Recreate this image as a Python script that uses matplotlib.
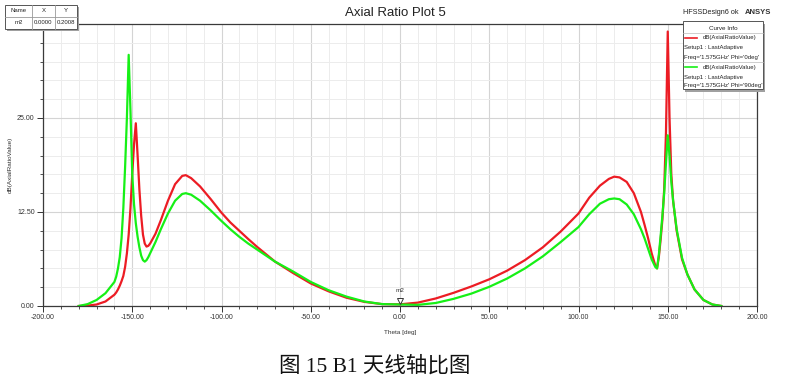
import matplotlib
matplotlib.use("Agg")
import matplotlib.pyplot as plt
from matplotlib.patches import Rectangle
from matplotlib.lines import Line2D
from matplotlib.transforms import offset_copy
import numpy as np

plt.rcParams['font.family'] = ['Liberation Sans', 'DejaVu Sans']

# theta (deg) shared by both curves
theta = [-180, -175, -170, -165, -160, -159, -158, -157, -156, -155, -154, -153, -152, -151,
         -150, -149, -148, -147, -146, -145, -144, -143, -142, -141, -140, -137, -134, -130,
         -126, -122, -120, -117, -112, -106, -100, -95, -90, -85, -80, -70, -60, -50, -40, -30, -20, -10,
         0, 10, 20, 30, 40, 50, 60, 70, 80, 90, 100, 106, 112, 117, 120, 123, 127, 131, 135,
         137, 139, 141, 143, 144, 145, 146, 147, 148, 149, 150, 151, 152, 153, 155, 158, 161,
         165, 170, 175, 180]

# dB(AxialRatioValue), Phi = 0deg
ar_phi0 = [0.0, 0.05, 0.2, 0.6, 1.5, 1.8, 2.2, 2.7, 3.3, 4.0, 5.2, 7.0, 9.5, 13.0,
           17.5, 21.5, 24.3, 20.0, 15.5, 12.0, 9.5, 8.3, 7.9, 8.0, 8.3, 9.6, 11.4, 14.0,
           16.2, 17.3, 17.4, 17.0, 15.9, 14.2, 12.4, 11.1, 10.0, 8.9, 7.85, 5.9, 4.4, 3.0, 1.95, 1.1, 0.55, 0.25,
           0.22, 0.45, 1.0, 1.75, 2.6, 3.55, 4.7, 6.1, 7.8, 9.9, 12.3, 14.4, 16.0, 16.9, 17.2, 17.1, 16.5, 15.0, 12.5,
           10.8, 9.0, 7.0, 5.4, 5.0, 6.5, 8.8, 11.5, 15.5, 23.0, 36.5, 25.0, 17.5, 14.0, 10.0, 6.2, 4.2,
           2.2, 0.8, 0.2, 0.0]

# dB(AxialRatioValue), Phi = 90deg
ar_phi90 = [0.0, 0.25, 0.8, 1.7, 3.2, 3.9, 5.0, 6.5, 9.0, 13.0, 18.5, 25.0, 33.4, 26.0,
            17.5, 13.5, 11.0, 9.2, 7.8, 6.7, 6.1, 5.9, 6.1, 6.5, 7.0, 8.5, 10.2, 12.3,
            14.0, 14.9, 15.0, 14.8, 14.0, 12.7, 11.3, 10.2, 9.2, 8.3, 7.5, 5.9, 4.6, 3.2, 2.1, 1.25, 0.6, 0.25,
            0.2, 0.15, 0.4, 0.95, 1.65, 2.55, 3.65, 5.0, 6.6, 8.5, 10.5, 12.2, 13.6, 14.2, 14.3, 14.2, 13.5, 12.2, 10.2,
            9.0, 7.6, 6.2, 5.2, 5.0, 6.8, 9.3, 12.0, 15.0, 19.0, 22.7, 20.0, 16.5, 14.0, 10.2, 6.4, 4.2,
            2.2, 0.8, 0.2, 0.0]

x_ticks = [-200, -150, -100, -50, 0, 50, 100, 150, 200]
y_ticks = [0, 12.5, 25]
marker_x, marker_y = 0.0, 0.2008

W, H = 791, 383
RED = '#ec1c24'
GREEN = '#16f016'


def fx(px):
    return px / W


def fy(py):
    return 1 - py / H


fig = plt.figure(figsize=(W / 100, H / 100), dpi=100)
ax = fig.add_axes([fx(43), fy(306), fx(757) - fx(43), fy(24) - fy(306)])

ax.plot(theta, ar_phi0, color=RED, lw=1.6, solid_joinstyle='round')
ax.plot(theta, ar_phi90, color=GREEN, lw=1.6, solid_joinstyle='round')

ax.set_xlim(-200, 200)
ax.set_ylim(0, 37.5)
ax.set_xticks(x_ticks)
ax.set_xticklabels(['%.2f' % v for v in x_ticks])
ax.set_yticks(y_ticks)
ax.set_yticklabels(['%.2f' % v for v in y_ticks])
ax.set_xticks(np.arange(-200, 201, 10), minor=True)
ax.set_yticks(np.arange(0, 37.6, 2.5), minor=True)
ax.grid(which='minor', color='#ececec', lw=0.7)
ax.grid(which='major', color='#d4d4d4', lw=0.8)
ax.set_axisbelow(True)
ax.tick_params(which='major', length=4, width=0.7, labelsize=5, colors='#333333', pad=2)
ax.tick_params(which='minor', length=2, width=0.6, colors='#333333')
for s in ax.spines.values():
    s.set_color('#3a3a3a')
    s.set_linewidth(0.9)

ax.set_xlabel('Theta [deg]', fontsize=4.6, color='#333333', labelpad=6)
ax.set_ylabel('dB(AxialRatioValue)', fontsize=4.6, color='#333333', labelpad=3)

# marker m2
tr = offset_copy(ax.transData, fig=fig, x=0, y=3.5, units='dots')
ax.plot([marker_x], [marker_y], marker='v', ms=4, mfc='white', mec='#333333', mew=0.7,
        transform=tr, clip_on=False)
ax.annotate('m2', (marker_x, marker_y), xytext=(0, 8), textcoords='offset points',
            ha='center', va='bottom', fontsize=4.6, color='#333333')

fig.text(0.5, fy(13), 'Axial Ratio Plot 5', ha='center', va='center', fontsize=9.5, color='#222222')
fig.text(fx(683), fy(13), 'HFSSDesign6 ok', ha='left', va='center', fontsize=5.2, color='#222222')
fig.text(fx(745), fy(12), 'ANSYS', ha='left', va='center', fontsize=5.5, weight='bold', color='#333333')

# marker table
fig.add_artist(Rectangle((fx(7), fy(31)), fx(72), fy(5) - fy(29), transform=fig.transFigure,
                         facecolor='#a0a0a0', edgecolor='none'))
fig.add_artist(Rectangle((fx(5), fy(29)), fx(72), fy(5) - fy(29), transform=fig.transFigure,
                         facecolor='white', edgecolor='#555555', lw=0.7))
for xs in [32, 55]:
    fig.add_artist(Line2D([fx(xs), fx(xs)], [fy(5), fy(29)], color='#999999', lw=0.6))
fig.add_artist(Line2D([fx(5), fx(77)], [fy(17), fy(17)], color='#999999', lw=0.6))
cells = [('Name', 'X', 'Y'), ('m2', '%.4f' % marker_x, '%.4f' % marker_y)]
for r, row in enumerate(cells):
    for cx, txt in zip([18.5, 43.5, 66], row):
        fig.text(fx(cx), fy(11 + 12 * r), txt, ha='center', va='center', fontsize=4.3, color='#222222')

# curve info box
fig.add_artist(Rectangle((fx(685), fy(92)), fx(80), fy(21) - fy(89), transform=fig.transFigure,
                         facecolor='#a0a0a0', edgecolor='none'))
fig.add_artist(Rectangle((fx(683), fy(89)), fx(80), fy(21) - fy(89), transform=fig.transFigure,
                         facecolor='white', edgecolor='#555555', lw=0.7))
fig.text(fx(723), fy(28), 'Curve Info', ha='center', va='center', fontsize=4.5, color='#222222')
fig.add_artist(Line2D([fx(683), fx(763)], [fy(33), fy(33)], color='#bbbbbb', lw=0.5))
fig.add_artist(Line2D([fx(683), fx(763)], [fy(62), fy(62)], color='#bbbbbb', lw=0.5))
for y0, col, phi in [(38, RED, '0deg'), (67, GREEN, '90deg')]:
    fig.add_artist(Line2D([fx(685), fx(697)], [fy(y0), fy(y0)], color=col, lw=1.2))
    fig.text(fx(703), fy(y0), 'dB(AxialRatioValue)', ha='left', va='center', fontsize=4.3, color='#222222')
    fig.text(fx(684), fy(y0 + 10), 'Setup1 : LastAdaptive', ha='left', va='center', fontsize=4.3,
             color='#222222')
    fig.text(fx(684), fy(y0 + 19), "Freq='1.575GHz' Phi='%s'" % phi, ha='left', va='center',
             fontsize=4.3, color='#222222')

fig.text(fx(375), fy(366), '图 15 B1 天线轴比图', ha='center', va='center', fontsize=15.5,
         family=['Liberation Serif', 'Noto Sans CJK SC'], color='#111111')

fig.savefig('out.png', dpi=100, facecolor='white')
